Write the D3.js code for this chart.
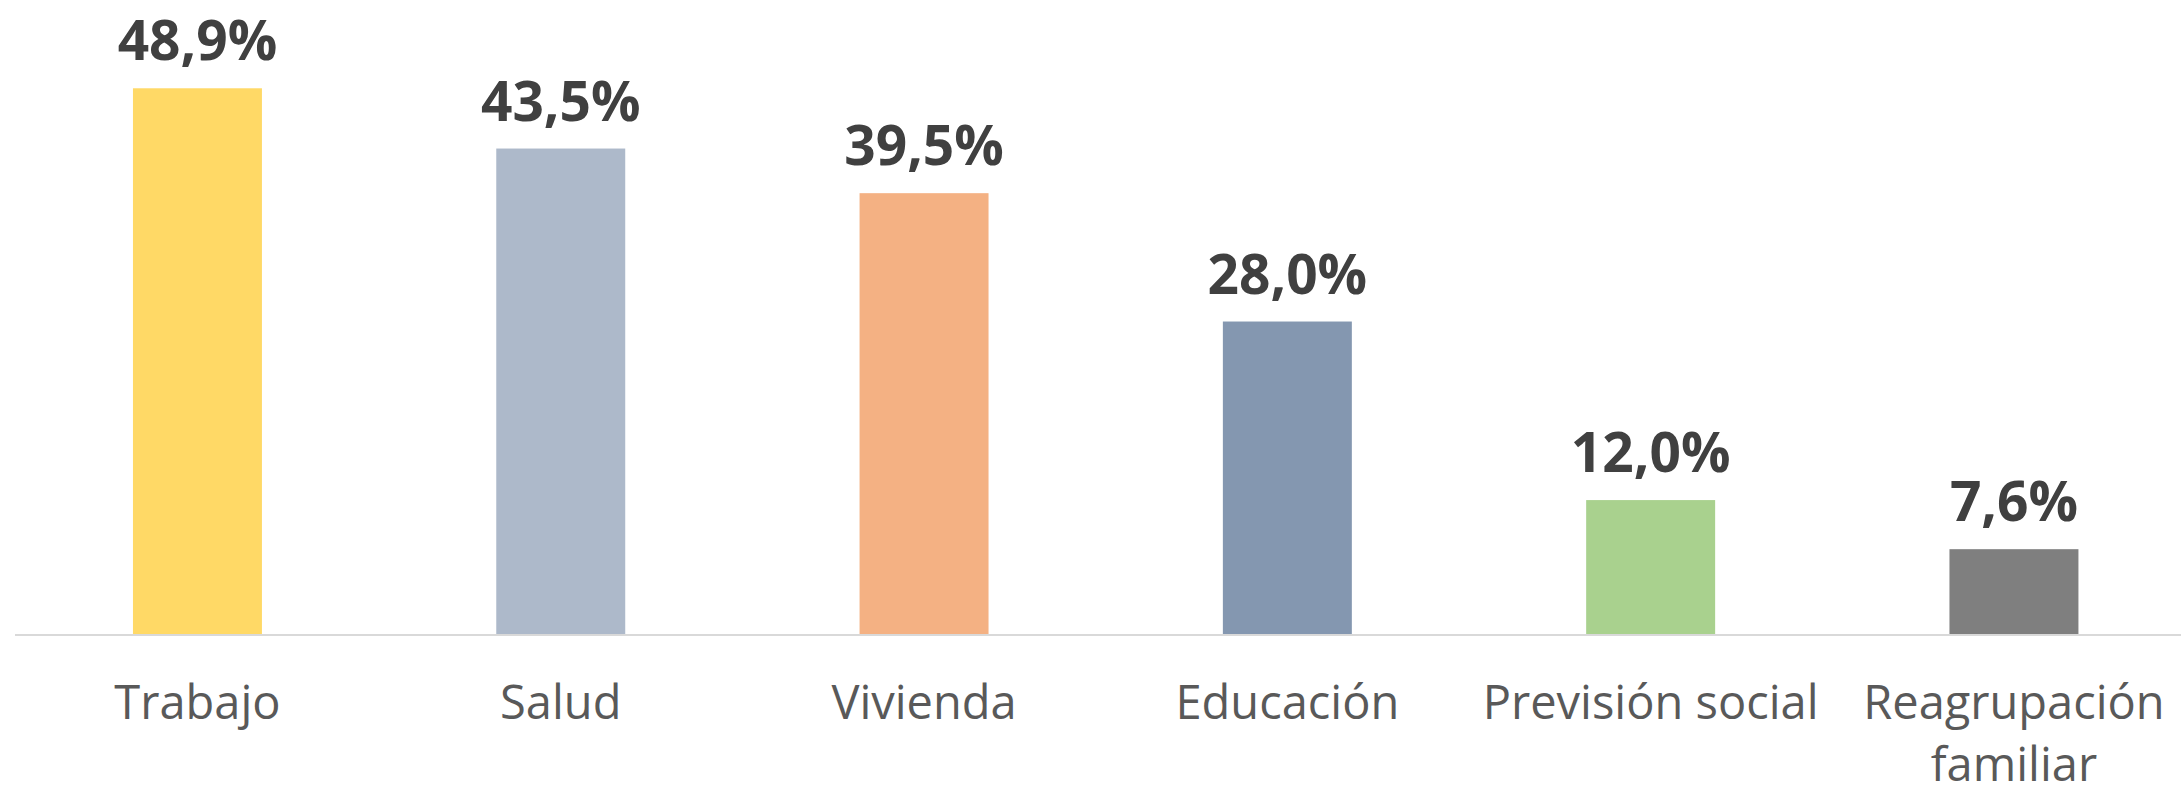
<!DOCTYPE html>
<html>
<head>
<meta charset="utf-8">
<script src="https://cdn.jsdelivr.net/npm/d3@7"></script>
<style>
  html, body { margin: 0; padding: 0; background: #fff; }
  svg { display: block; }
</style>
</head>
<body>
<div id="chart"></div>
<script>
const categories = ['Trabajo', 'Salud', 'Vivienda', 'Educación', 'Previsión social', 'Reagrupación familiar']
const values = [48.9, 43.5, 39.5, 28.0, 12.0, 7.6]
const barColors = ['#FFD966', '#ADB9CA', '#F4B183', '#8497B0', '#A9D18E', '#7F7F7F']

const width = 2181
const height = 786
const baseline = 634

const svg = d3.select('#chart').append('svg')
  .attr('width', width)
  .attr('height', height)

const x = d3.scaleBand()
  .domain(categories)
  .range([15.8, 15.8 + 6 * 363.3])
  .paddingInner(0.645)
  .paddingOuter(0.3225)

const y = d3.scaleLinear()
  .domain([0, 50])
  .range([baseline, baseline - 50 * 11.16])

const fmt = v => d3.format('.1f')(v).replace('.', ',') + '%'

svg.append('g').selectAll('rect')
  .data(values)
  .join('rect')
  .attr('x', (d, i) => x(categories[i]))
  .attr('y', d => y(d))
  .attr('width', x.bandwidth())
  .attr('height', d => y(0) - y(d))
  .attr('fill', (d, i) => barColors[i])

// axis line along the bottom
svg.append('line')
  .attr('x1', 15)
  .attr('x2', width)
  .attr('y1', y(0) + 1)
  .attr('y2', y(0) + 1)
  .attr('stroke', '#D9D9D9')
  .attr('stroke-width', 2)

svg.append('g').selectAll('text')
  .data(values)
  .join('text')
  .attr('x', (d, i) => x(categories[i]) + x.bandwidth() / 2)
  .attr('y', d => y(d) - 28)
  .attr('text-anchor', 'middle')
  .attr('font-family', '"Open Sans", sans-serif')
  .attr('font-weight', 700)
  .attr('font-size', '55px')
  .attr('fill', '#404040')
  .text(fmt)

// category labels, wrapped when wider than one band step
const labels = svg.append('g').selectAll('text')
  .data(categories)
  .join('text')
  .attr('x', d => x(d) + x.bandwidth() / 2)
  .attr('y', 719)
  .attr('text-anchor', 'middle')
  .attr('font-family', '"Open Sans", sans-serif')
  .attr('font-size', '47px')
  .attr('fill', '#595959')
  .text(d => d)

labels.each(function (d) {
  const el = d3.select(this)
  if (this.getComputedTextLength() <= x.step()) return
  const words = d.split(' ')
  const cx = el.attr('x')
  el.text(null)
  words.forEach((w, i) => {
    el.append('tspan')
      .attr('x', cx)
      .attr('dy', i === 0 ? 0 : 62)
      .text(w)
  })
})
</script>
</body>
</html>
